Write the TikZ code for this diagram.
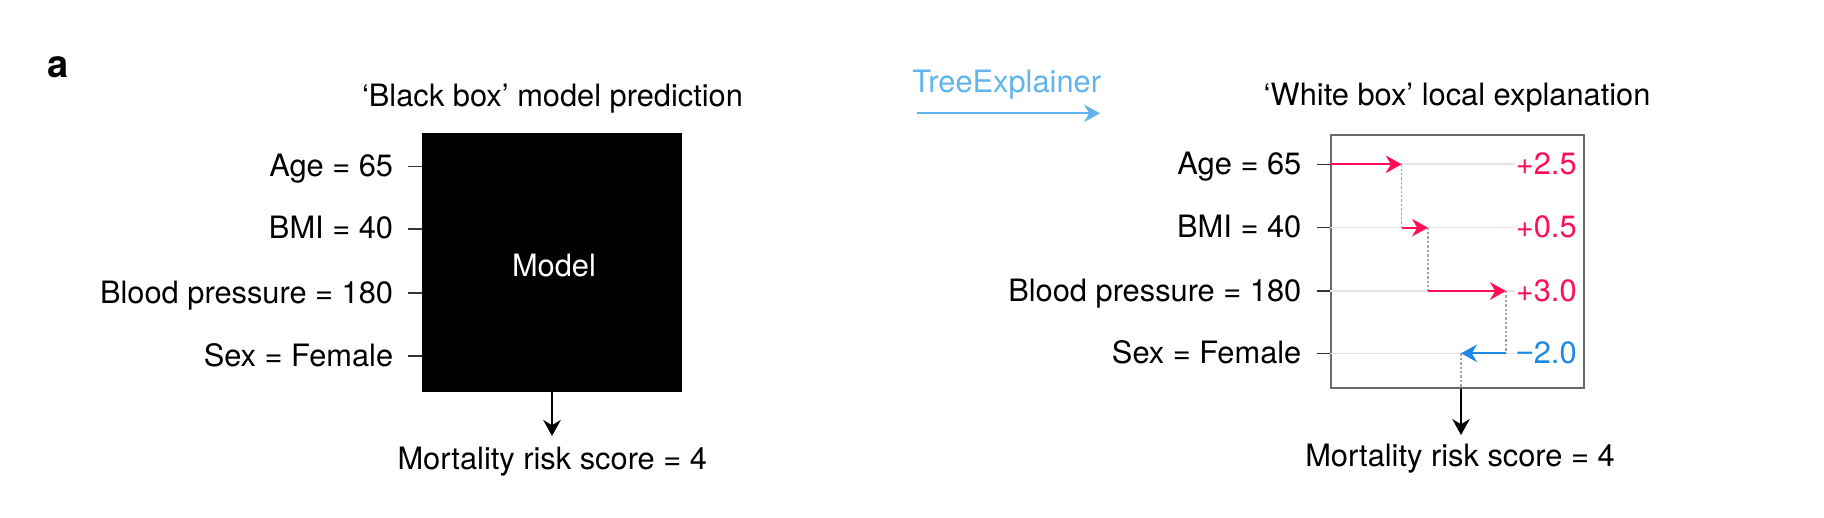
\documentclass[tikz,border=0pt]{standalone}
\usepackage{fontspec}
\setmainfont{TeX Gyre Heros}
\newfontfamily\minusfont{Liberation Sans}
\usetikzlibrary{arrows.meta}
\definecolor{shapred}{RGB}{255,13,87}
\definecolor{shapblue}{RGB}{30,136,229}
\definecolor{treeblue}{RGB}{98,180,236}
\definecolor{rowgray}{RGB}{228,228,228}
\definecolor{boxgray}{RGB}{105,105,105}
\definecolor{dotgray}{RGB}{165,165,165}
\begin{document}
\begin{tikzpicture}[x=0.5pt,y=-0.5pt,
  txt/.style={font=\fontsize{15.4}{18}\selectfont, inner sep=0pt},
  lbl/.style={txt, anchor=base east},
  val/.style={txt, anchor=base east},
  ttl/.style={txt, anchor=base},
  tickline/.style={line width=0.75pt, draw=black!80},
  rowline/.style={line width=0.8pt, draw=rowgray},
  tipstyle/.style={-{Stealth[length=8pt,width=8.8pt,inset=2.6pt]}},
  redarrow/.style={tipstyle, line width=1pt, draw=shapred, fill=shapred},
  bluearrow/.style={tipstyle, line width=1pt, draw=shapblue, fill=shapblue},
  blackarrow/.style={tipstyle, line width=0.8pt, draw=black},
  treearrow/.style={tipstyle, line width=1pt, draw=treeblue, fill=treeblue},
  dotline/.style={line width=0.6pt, draw=dotgray, dash pattern=on 1.2pt off 1pt},
]
\useasboundingbox (0,0) rectangle (1824,518);

% panel letter
\node[inner sep=0pt, anchor=base west, font=\fontsize{19}{22}\bfseries\selectfont] (panel) at (47,78) {a};

% ---------- left panel ----------
\node[ttl] (ltitle) at (552.5,107) {‘Black box’ model prediction};
\node[fill=black, minimum width=130pt, minimum height=129.5pt, inner sep=0pt] (bb) at (552,262.5) {};
\node[ttl, text=white] (model) at (554,277) {Model};

\node[lbl] (la) at (393.5,176.7) {Age = 65};
\node[lbl] (lb) at (393.5,239) {BMI = 40};
\node[lbl] (lc) at (393.5,303) {Blood pressure = 180};
\node[lbl] (ld) at (393.5,366) {Sex = Female};

\coordinate (ta) at (408,166.7);
\coordinate (tb) at (408,229);
\coordinate (tc) at (408,293);
\coordinate (td) at (408,356);
\draw[tickline] (ta) -- (ta -| bb.west);
\draw[tickline] (tb) -- (tb -| bb.west);
\draw[tickline] (tc) -- (tc -| bb.west);
\draw[tickline] (td) -- (td -| bb.west);

\coordinate (le) at (552,436);
\draw[blackarrow] (bb.south) -- (le);
\node[ttl] (lm) at (552.3,469) {Mortality risk score = 4};

% ---------- TreeExplainer ----------
\node[ttl, text=treeblue] (tree) at (1006.7,92.3) {TreeExplainer};
\coordinate (ts) at (917,113.3);
\coordinate (te) at (1100,113.3);
\draw[treearrow] (ts) -- (te);

% ---------- right panel ----------
\node[ttl] (rtitle) at (1457,106) {‘White box’ local explanation};
\node[draw=boxgray, line width=0.75pt, minimum width=126.5pt, minimum height=126.5pt, inner sep=0pt] (wb) at (1457.5,261.5) {};

\node[lbl] (ra) at (1301.7,174.3) {Age = 65};
\node[lbl] (rb) at (1301.7,237.7) {BMI = 40};
\node[lbl] (rc) at (1301.7,301) {Blood pressure = 180};
\node[lbl] (rd) at (1301.7,363.3) {Sex = Female};

\node[val, text=shapred] (va) at (1577,174.3) {+2.5};
\node[val, text=shapred] (vb) at (1577,237.7) {+0.5};
\node[val, text=shapred] (vc) at (1577,301) {+3.0};
\node[val, text=shapblue] (vd) at (1577,363.3) {{\minusfont −}2.0};

\coordinate (sa) at (1316.7,164.3);
\coordinate (sb) at (1316.7,227.7);
\coordinate (sc) at (1316.7,291);
\coordinate (sd) at (1316.7,353.3);
\draw[tickline] (sa) -- (sa -| wb.west);
\draw[tickline] (sb) -- (sb -| wb.west);
\draw[tickline] (sc) -- (sc -| wb.west);
\draw[tickline] (sd) -- (sd -| wb.west);

\draw[rowline] (sa -| wb.west) -- (sa -| va.west);
\draw[rowline] (sb -| wb.west) -- (sb -| vb.west);
\draw[rowline] (sc -| wb.west) -- (sc -| vc.west);
\draw[rowline] (sd -| wb.west) -- (sd -| vd.west);

\coordinate (a1) at (1401.7,164.3);
\coordinate (a2) at (1428,227.7);
\coordinate (a3) at (1506,291);
\coordinate (a4) at (1461,353.3);
\draw[dotline] (a1) -- (a1 |- a2);
\draw[dotline] (a2) -- (a2 |- a3);
\draw[dotline] (a3) -- (a3 |- a4);
\draw[dotline] (a4) -- (a4 |- wb.south);
\draw[redarrow] (sa -| wb.west) -- (a1);
\draw[redarrow] (a1 |- a2) -- (a2);
\draw[redarrow] (a2 |- a3) -- (a3);
\draw[bluearrow] (a3 |- a4) -- (a4);

\coordinate (re) at (1461,435);
\draw[blackarrow] (a4 |- wb.south) -- (re);
\node[ttl] (rm) at (1460,466) {Mortality risk score = 4};
\end{tikzpicture}
\end{document}
